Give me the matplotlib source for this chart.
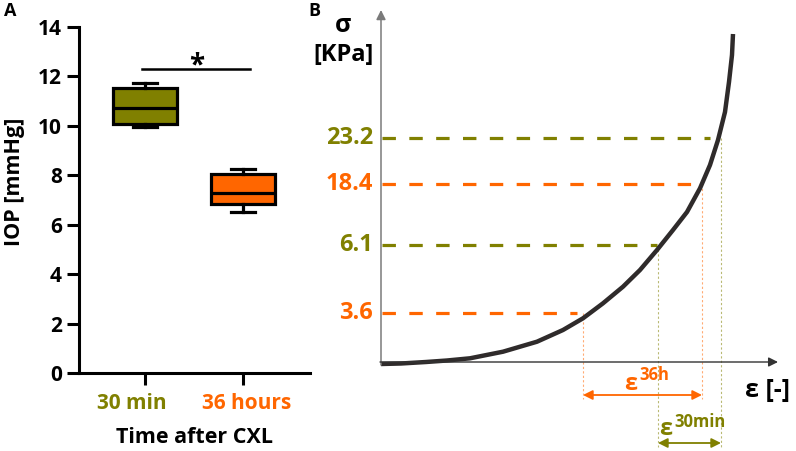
import numpy as np
import matplotlib
matplotlib.use("Agg")
import matplotlib.pyplot as plt
from matplotlib.transforms import ScaledTranslation

plt.rcParams['font.family'] = ['Open Sans', 'DejaVu Sans']
plt.rcParams['font.weight'] = 'bold'

OLIVE = '#808000'
ORANGE = '#ff6600'
CURVE = '#2f2b2b'

# ---- panel A: IOP box plots ----
groups = ['30 min', '36 hours']
group_colors = [OLIVE, ORANGE]
whislo = [9.97, 6.50]
q1 = [10.07, 6.84]
med = [10.74, 7.30]
q3 = [11.52, 8.05]
whishi = [11.75, 8.24]
sig_y = 12.3

# ---- panel B: schematic stress-strain curve ----
curve_strain = [0, 0.2, 0.45, 0.66, 0.89, 1.22, 1.56, 1.82, 2.02, 2.22, 2.42,
                2.59, 2.76, 2.92, 3.06, 3.19, 3.29, 3.37, 3.44, 3.48, 3.51, 3.52]
curve_stress = [-0.02, -0.015, 0.0, 0.015, 0.037, 0.103, 0.203, 0.32, 0.437,
                0.587, 0.753, 0.92, 1.12, 1.32, 1.50, 1.737, 1.97, 2.22, 2.50,
                2.80, 3.07, 3.28]
level_labels = ['3.6', '6.1', '18.4', '23.2']
level_pos = [0.49, 1.17, 1.78, 2.24]
level_colors = [ORANGE, OLIVE, ORANGE, OLIVE]
dash_end = [1.96, 2.76, 3.19, 3.29]
eps_at = [2.02, 2.77, 3.21, 3.40]

W, H = 796, 451
fig = plt.figure(figsize=(W / 100, H / 100), dpi=100)

# Panel A
ax = fig.add_axes([79 / W, 78 / H, (310 - 79) / W, (373 - 27) / H])
stats = []
for i in range(len(groups)):
    stats.append(dict(whislo=whislo[i], q1=q1[i], med=med[i], q3=q3[i],
                      whishi=whishi[i], fliers=[], label=groups[i]))
bp = ax.bxp(stats, positions=[0, 1], widths=0.66, patch_artist=True,
            capwidths=0.24, showfliers=False,
            boxprops=dict(linewidth=2.3, edgecolor='black'),
            whiskerprops=dict(linewidth=2.3, color='black'),
            capprops=dict(linewidth=2.3, color='black'),
            medianprops=dict(linewidth=2.3, color='black'))
for patch, c in zip(bp['boxes'], group_colors):
    patch.set_facecolor(c)

ax.set_xlim(-0.673, 1.684)
ax.set_ylim(0, 14)
ax.set_yticks(np.arange(0, 15, 2))
ax.set_xticks([0, 1])
ax.set_xticklabels(groups)
ax.spines['top'].set_visible(False)
ax.spines['right'].set_visible(False)
ax.spines['left'].set_linewidth(2.2)
ax.spines['bottom'].set_linewidth(2.2)
ax.tick_params(axis='both', length=8.5, width=2.2, labelsize=15, pad=4)
ax.tick_params(axis='x', pad=6)
for lab in ax.get_xticklabels() + ax.get_yticklabels():
    lab.set_fontweight('bold')
# the category labels sit a little off their ticks in the original
for lab, c, dx in zip(ax.get_xticklabels(), group_colors, [-13, 4]):
    lab.set_color(c)
    lab.set_transform(lab.get_transform() +
                      ScaledTranslation(dx / 100, 0, fig.dpi_scale_trans))
ax.set_ylabel('IOP [mmHg]', fontsize=15.5, fontweight='bold')
ax.yaxis.set_label_coords(-0.235, 0.552)
ax.set_xlabel('Time after CXL', fontsize=15.5, fontweight='bold', labelpad=9)

# significance bar
ax.plot([-0.03, 1.07], [sig_y, sig_y], color='black', lw=1.8, clip_on=False)
ax.text(0.53, 12.14, '*', ha='center', va='baseline', fontsize=20,
        fontweight='bold')

fig.text(10 / W, 1 - 11 / H, 'A', ha='center', va='center', fontsize=13,
         fontweight='bold')
fig.text(314 / W, 1 - 11 / H, 'B', ha='center', va='center', fontsize=13,
         fontweight='bold')

# Panel B
bx = fig.add_axes([381 / W, 0, 400 / W, 1])
bx.set_xlim(0, 4)
bx.set_ylim(-0.89, 3.62)
bx.axis('off')

# axes with arrow heads
bx.annotate('', xy=(0, 3.52), xytext=(0, -0.03),
            arrowprops=dict(arrowstyle='-|>', color='#7a7a7a', lw=1.1,
                            mutation_scale=14, shrinkA=0, shrinkB=0))
bx.annotate('', xy=(3.97, 0), xytext=(-0.01, 0),
            arrowprops=dict(arrowstyle='-|>', color='#333333', lw=1.0,
                            mutation_scale=14, shrinkA=0, shrinkB=0))

# dashed stress levels
for lab, y, c, xe in zip(level_labels, level_pos, level_colors, dash_end):
    bx.plot([0.01, xe], [y, y], color=c, lw=2.3, dashes=[4.2, 4.2],
            solid_capstyle='butt', dash_capstyle='butt')
    bx.text(-0.08, y, lab, ha='right', va='center', color=c, fontsize=17,
            fontweight='bold', clip_on=False)

# dotted projections onto the strain axis
arrow_y = [-0.33, -0.81]
for (a, b), c, ya in zip([(0, 2), (1, 3)], [ORANGE, OLIVE], arrow_y):
    for k in (a, b):
        bx.plot([eps_at[k], eps_at[k]], [level_pos[k], ya - 0.04], color=c,
                lw=0.8, alpha=0.55, linestyle=(0, (2, 2)))
    bx.annotate('', xy=(eps_at[b], ya), xytext=(eps_at[a], ya),
                arrowprops=dict(arrowstyle='<|-|>', color=c, lw=1.3,
                                mutation_scale=14, shrinkA=0, shrinkB=0))

# stress-strain curve
bx.plot(curve_strain, curve_stress, color=CURVE, lw=3.2, solid_capstyle='butt',
        solid_joinstyle='round', clip_on=False)

# labels
bx.text(-0.38, 3.37, 'σ', ha='center', va='center', fontsize=18,
        fontweight='bold')
bx.text(-0.07, 3.07, '[KPa]', ha='right', va='center', fontsize=17,
        fontweight='bold')
bx.text(3.64, -0.28, 'ε [-]', ha='left', va='center', fontsize=18,
        fontweight='bold')

bx.text(2.56, -0.28, 'ε', ha='right', va='baseline', color=ORANGE,
        fontsize=17, fontweight='bold')
bx.text(2.58, -0.18, '36h', ha='left', va='baseline', color=ORANGE,
        fontsize=12, fontweight='bold')
bx.text(2.91, -0.73, 'ε', ha='right', va='baseline', color=OLIVE,
        fontsize=17, fontweight='bold')
bx.text(2.93, -0.65, '30min', ha='left', va='baseline', color=OLIVE,
        fontsize=12, fontweight='bold')

fig.savefig('out.png', dpi=100)
